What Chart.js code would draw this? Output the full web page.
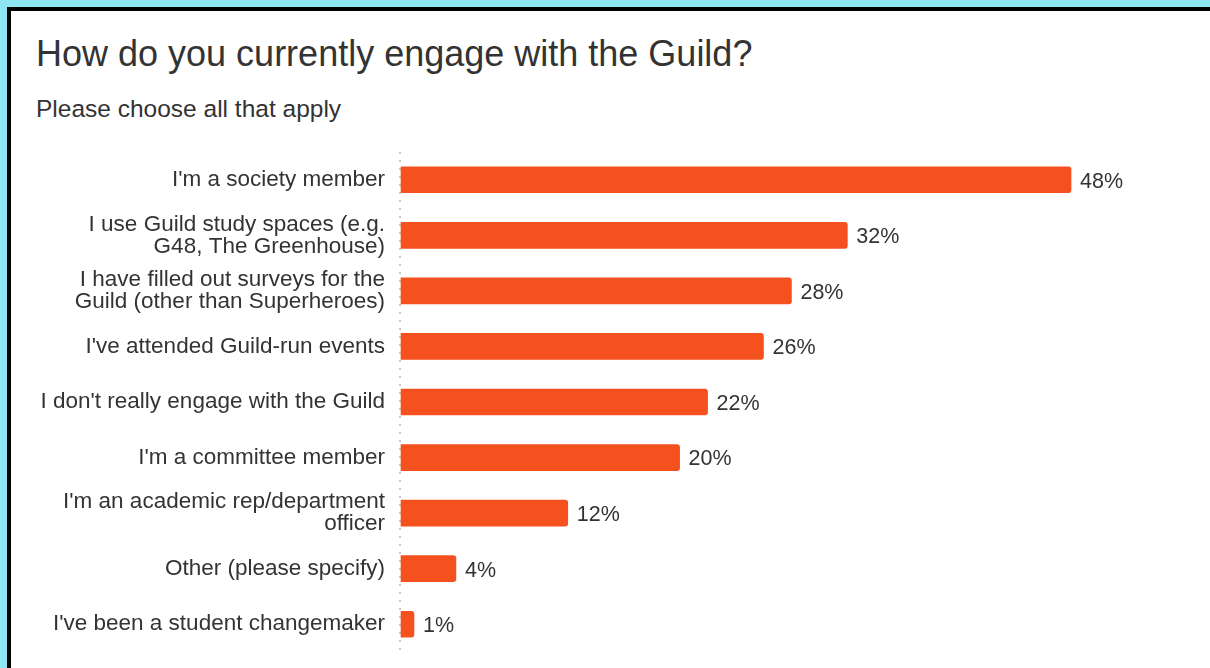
<!DOCTYPE html>
<html>
<head>
<meta charset="utf-8">
<script src="https://cdn.jsdelivr.net/npm/chart.js@4.4.1/dist/chart.umd.min.js"></script>
<style>
  html, body { margin: 0; padding: 0; }
  body {
    width: 1210px;
    height: 668px;
    overflow: hidden;
    background: #8de6f0;
    position: relative;
    font-family: "Liberation Sans", Arial, sans-serif;
  }
  .panel {
    position: absolute;
    left: 7px;
    top: 7px;
    right: 0;
    bottom: 0;
    background: #fff;
    border-left: 4px solid #000;
    border-top: 4px solid #000;
  }
  .panel h1 {
    position: absolute;
    left: 25px;
    top: 25px;
    margin: 0;
    font-size: 36px;
    line-height: 1;
    font-weight: normal;
    color: #333;
    white-space: nowrap;
  }
  .panel h2 {
    position: absolute;
    left: 25px;
    top: 86px;
    margin: 0;
    font-size: 24.5px;
    line-height: 1;
    font-weight: normal;
    color: #333;
    white-space: nowrap;
  }
  .chart-box {
    position: absolute;
    left: 0;
    top: 129px;
    width: 1199px;
    height: 528px;
  }
</style>
</head>
<body>
<div class="panel">
  <h1>How do you currently engage with the Guild?</h1>
  <h2>Please choose all that apply</h2>
  <div class="chart-box"><canvas id="engageChart"></canvas></div>
</div>
<script>
const categories = [
  "I'm a society member",
  ["I use Guild study spaces (e.g.", "G48, The Greenhouse)"],
  ["I have filled out surveys for the", "Guild (other than Superheroes)"],
  "I've attended Guild-run events",
  "I don't really engage with the Guild",
  "I'm a committee member",
  ["I'm an academic rep/department", "officer"],
  "Other (please specify)",
  "I've been a student changemaker"
];
const percentages = [48, 32, 28, 26, 22, 20, 12, 4, 1];

// writes the percentage just past the end of each bar
const valueLabels = {
  id: 'valueLabels',
  afterDatasetsDraw(chart) {
    const ctx = chart.ctx;
    const meta = chart.getDatasetMeta(0);
    ctx.save();
    ctx.font = '21.5px "Liberation Sans", Arial, sans-serif';
    ctx.fillStyle = '#333';
    ctx.textAlign = 'left';
    ctx.textBaseline = 'middle';
    meta.data.forEach((bar, i) => {
      ctx.fillText(percentages[i] + '%', bar.x + 9, bar.y + 2);
    });
    ctx.restore();
  }
};

const ctx = document.getElementById('engageChart');

new Chart(ctx, {
  type: 'bar',
  data: {
    labels: categories,
    datasets: [{
      data: percentages,
      backgroundColor: '#f4511e',
      borderRadius: { topRight: 3, bottomRight: 3 },
      borderSkipped: 'start',
      barThickness: 26
    }]
  },
  options: {
    indexAxis: 'y',
    responsive: true,
    maintainAspectRatio: false,
    animation: false,
    layout: {
      padding: { top: 12, bottom: 16, left: 0, right: 111 }
    },
    scales: {
      x: {
        min: 0,
        max: 50,
        ticks: { display: false },
        // only the zero line is kept, as a dotted baseline
        grid: {
          drawTicks: false,
          lineWidth: 2,
          color: (c) => (c.tick && c.tick.value === 0 ? '#c8c8c8' : 'rgba(0,0,0,0)')
        },
        border: { display: false, dash: [2, 6] }
      },
      y: {
        afterFit(scale) {
          // fixed label column, and no extra room above/below for label overhang
          scale.width = 389;
          scale.paddingTop = 0;
          scale.paddingBottom = 0;
        },
        grid: { display: false, drawTicks: false },
        border: { display: false },
        ticks: {
          padding: 15,
          color: '#333',
          font: { family: '"Liberation Sans", Arial, sans-serif', size: 22.5, lineHeight: 0.98 }
        }
      }
    },
    plugins: {
      legend: { display: false },
      tooltip: { enabled: false }
    }
  },
  plugins: [valueLabels]
});
</script>
</body>
</html>
